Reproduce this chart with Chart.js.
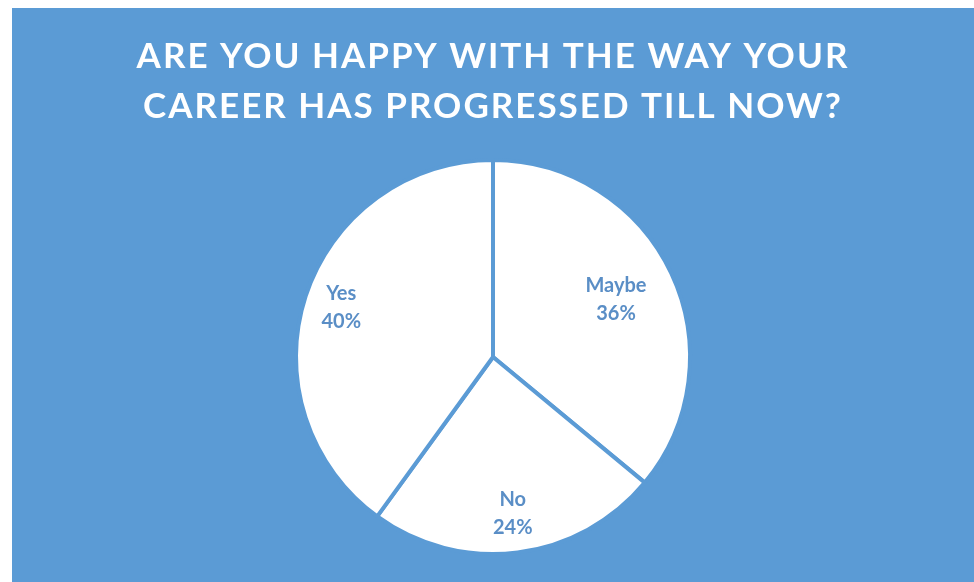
<!DOCTYPE html>
<html>
<head>
<meta charset="utf-8">
<script src="https://cdn.jsdelivr.net/npm/chart.js@4/dist/chart.umd.min.js"></script>
<style>
  html, body { margin: 0; padding: 0; background: #fff; }
  #wrap { position: absolute; left: 12px; top: 8px; width: 962px; height: 574px; background: #5b9bd5; }
</style>
</head>
<body>
<div id="wrap"><canvas id="pie" width="962" height="574"></canvas></div>
<script>
'use strict';
const answers = ['Maybe', 'No', 'Yes'];
const shares = [36, 24, 40];
const titleLines = ['ARE YOU HAPPY WITH THE WAY YOUR', 'CAREER HAS PROGRESSED TILL NOW?'];

const blue = '#5b9bd5';
const labelBlue = '#5a8ec6';
// how far out each label sits, as a fraction of the radius
const labelReach = [0.69, 0.80, 0.81];

// spaced-out capitals for the title; the title box is drawn after beforeDraw
const titleSpacing = {
	id: 'titleSpacing',
	beforeDraw: (chart) => { chart.ctx.letterSpacing = '2px'; },
	beforeDatasetsDraw: (chart) => { chart.ctx.letterSpacing = '0px'; }
};

// writes "name / pct%" inside every slice
const sliceLabels = {
	id: 'sliceLabels',
	afterDatasetsDraw: (chart) => {
		const ctx = chart.ctx,
			meta = chart.getDatasetMeta(0);
		ctx.save();
		ctx.letterSpacing = '0px';
		ctx.fillStyle = labelBlue;
		ctx.textAlign = 'center';
		ctx.textBaseline = 'middle';
		ctx.font = 'bold 20px Lato';
		meta.data.forEach((arc, i) => {
			const mid = (arc.startAngle + arc.endAngle) / 2,
				r = arc.outerRadius * labelReach[i],
				x = arc.x + Math.cos(mid) * r,
				y = arc.y + Math.sin(mid) * r;
			ctx.fillText(answers[i], x, y - 14);
			ctx.fillText(shares[i] + '%', x, y + 14);
		});
		ctx.restore();
	}
};

new Chart(document.getElementById('pie').getContext('2d'), {
	type: 'pie',
	data: {
		labels: answers,
		datasets: [{
			data: shares,
			backgroundColor: '#ffffff',
			borderColor: blue,
			borderWidth: 4
		}]
	},
	options: {
		responsive: false,
		animation: false,
		radius: 197,
		layout: { padding: { bottom: 7 } },
		plugins: {
			legend: { display: false },
			tooltip: { enabled: false },
			title: {
				display: true,
				text: titleLines,
				color: '#ffffff',
				font: { family: 'Lato', size: 35, weight: 'bold', lineHeight: 1.43 },
				padding: { top: 24, bottom: 7 }
			}
		}
	},
	plugins: [titleSpacing, sliceLabels]
});
</script>
</body>
</html>
